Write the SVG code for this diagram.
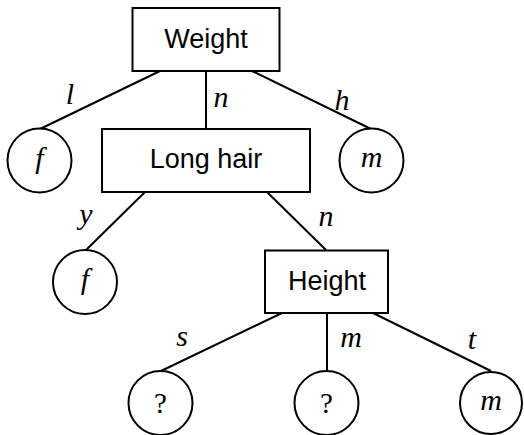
<svg xmlns="http://www.w3.org/2000/svg" width="524" height="435" viewBox="0 0 524 435">
  <style>
    .box { fill: #fff; stroke: #000; stroke-width: 2; }
    .leaf { fill: #fff; stroke: #000; stroke-width: 2; }
    .edge { stroke: #000; stroke-width: 2; fill: none; }
    .attr { font-family: "Liberation Sans", Arial, sans-serif; font-size: 27px; text-anchor: middle; fill: #000; }
    .var { font-family: "Liberation Serif", "Times New Roman", serif; font-style: italic; font-size: 30px; text-anchor: middle; fill: #000; }
    .q { font-family: "Liberation Serif", "Times New Roman", serif; font-size: 29px; text-anchor: middle; fill: #000; }
  </style>
  <rect width="524" height="435" fill="#fff"/>

  <!-- connectors with their branch labels -->
  <g id="edges">
    <line class="edge" x1="160" y1="71" x2="40" y2="129"/>
    <line class="edge" x1="206" y1="71" x2="206" y2="129"/>
    <line class="edge" x1="252" y1="71" x2="371" y2="129"/>
    <line class="edge" x1="145" y1="192" x2="86" y2="250"/>
    <line class="edge" x1="267" y1="192" x2="326" y2="250"/>
    <line class="edge" x1="282" y1="313" x2="161" y2="371"/>
    <line class="edge" x1="327" y1="313" x2="327" y2="371"/>
    <line class="edge" x1="373" y1="313" x2="491" y2="371"/>
    <text class="var" x="70" y="104">l</text>
    <text class="var" x="221" y="107">n</text>
    <text class="var" x="342" y="110">h</text>
    <text class="var" x="86" y="224">y</text>
    <text class="var" x="326" y="226">n</text>
    <text class="var" x="182" y="346">s</text>
    <text class="var" x="351" y="347">m</text>
    <text class="var" x="472" y="349">t</text>
  </g>

  <g id="weight">
    <rect class="box" x="132.5" y="8" width="147" height="63"/>
    <text class="attr" x="206" y="48">Weight</text>
  </g>
  <g id="long-hair">
    <rect class="box" x="102" y="129" width="208" height="63"/>
    <text class="attr" x="206" y="168">Long hair</text>
  </g>
  <g id="height">
    <rect class="box" x="265" y="250.5" width="123" height="62.5"/>
    <text class="attr" x="327" y="290">Height</text>
  </g>

  <g id="leaf-f1">
    <circle class="leaf" cx="39.5" cy="160.5" r="32"/>
    <text class="var" x="39.5" y="168">f</text>
  </g>
  <g id="leaf-m1">
    <circle class="leaf" cx="371.5" cy="160.5" r="32"/>
    <text class="var" x="371.5" y="167">m</text>
  </g>
  <g id="leaf-f2">
    <circle class="leaf" cx="85" cy="282" r="32"/>
    <text class="var" x="85" y="289">f</text>
  </g>
  <g id="leaf-q1">
    <circle class="leaf" cx="160.5" cy="403" r="32"/>
    <text class="q" x="160.5" y="413">?</text>
  </g>
  <g id="leaf-q2">
    <circle class="leaf" cx="326.5" cy="403" r="32"/>
    <text class="q" x="326.5" y="413">?</text>
  </g>
  <g id="leaf-m2">
    <circle class="leaf" cx="491" cy="403" r="31"/>
    <text class="var" x="491" y="410">m</text>
  </g>
</svg>
